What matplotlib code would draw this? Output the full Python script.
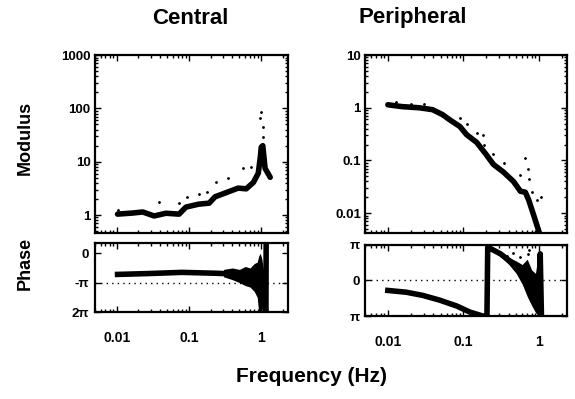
"""Central vs peripheral transfer function: modulus and phase against frequency."""

import matplotlib
matplotlib.use("Agg")
import matplotlib.pyplot as plt
from matplotlib.ticker import LogLocator, NullFormatter, FixedLocator

plt.rcParams["font.family"] = ["Liberation Sans", "DejaVu Sans"]
plt.rcParams["font.weight"] = "bold"

# ---- data ---------------------------------------------------------------
# Central modulus (thick curve) and scattered dots
central_mod_f = [0.0103, 0.0166, 0.023, 0.033, 0.048, 0.073, 0.091, 0.137, 0.19,
                 0.23, 0.32, 0.48, 0.62, 0.78, 0.91, 0.97, 1.0, 1.05, 1.13, 1.33]
central_mod_v = [1.04, 1.09, 1.14, 0.96, 1.08, 1.04, 1.41, 1.6, 1.67,
                 2.2, 2.6, 3.2, 3.1, 4.1, 6.1, 12.0, 18.7, 20.0, 7.5, 5.1]
central_dot_f = [0.0103, 0.039, 0.073, 0.094, 0.137, 0.18, 0.24, 0.35, 0.56,
                 0.73, 0.97, 1.0, 1.05, 1.05]
central_dot_v = [1.24, 1.75, 1.67, 2.2, 2.45, 2.7, 4.1, 4.9, 7.5,
                 7.9, 65.0, 84.0, 44.0, 29.0]

# Central phase (units of pi), noisy band near resonance
central_ph_f = [0.0103, 0.028, 0.08, 0.23, 0.39, 0.6, 0.82, 0.95, 1.1, 1.16, 1.17]
central_ph_v = [-0.72, -0.69, -0.65, -0.68, -0.70, -0.75, -0.82, -1.0, -1.2, -2.3, 0.5]
central_band_f = [0.3, 0.4, 0.5, 0.6, 0.7, 0.8, 0.88, 0.92, 0.97, 1.02, 1.08]
central_band_lo = [-0.8, -0.9, -1.0, -1.1, -1.15, -1.3, -1.5, -2.0, -2.0, -2.0, -1.4]
central_band_hi = [-0.55, -0.5, -0.55, -0.45, -0.5, -0.35, -0.3, -0.1, 0.0, -0.2, -0.6]

# Peripheral modulus
periph_mod_f = [0.01, 0.0155, 0.026, 0.039, 0.053, 0.066, 0.09, 0.11, 0.15, 0.2,
                0.25, 0.34, 0.46, 0.57, 0.66, 0.73, 0.86, 1.07]
periph_mod_v = [1.14, 1.05, 1.0, 0.92, 0.74, 0.59, 0.44, 0.31, 0.22, 0.13,
                0.084, 0.06, 0.04, 0.026, 0.025, 0.018, 0.0088, 0.0033]
periph_dot_f = [0.013, 0.02, 0.03, 0.09, 0.11, 0.15, 0.18, 0.19, 0.25, 0.34,
                0.57, 0.66, 0.71, 0.73, 0.82, 0.95, 1.05]
periph_dot_v = [1.3, 1.2, 1.2, 0.65, 0.5, 0.33, 0.3, 0.2, 0.13, 0.09,
                0.053, 0.11, 0.07, 0.045, 0.025, 0.018, 0.02]

# Peripheral phase (units of pi), wraps from -pi to pi near 0.2 Hz
periph_ph_f = [0.01, 0.0175, 0.029, 0.048, 0.082, 0.122, 0.18, 0.205, 0.21,
               0.31, 0.46, 0.57, 0.71, 0.86, 1.0, 1.04, 1.08]
periph_ph_v = [-0.28, -0.33, -0.42, -0.55, -0.72, -0.89, -1.0, -1.0, 0.94,
               0.75, 0.47, 0.19, -0.08, -0.36, -0.7, 0.75, -1.0]
periph_band_f = [0.3, 0.4, 0.5, 0.6, 0.7, 0.8, 0.9, 0.98, 1.05, 1.1]
periph_band_lo = [0.7, 0.45, 0.2, -0.1, -0.45, -0.7, -0.9, -1.0, -1.0, -1.0]
periph_band_hi = [0.8, 0.65, 0.55, 0.45, 0.6, 0.3, 0.2, 0.75, 0.75, 0.7]
periph_phdot_f = [0.28, 0.38, 0.46, 0.57, 0.71, 0.73]
periph_phdot_v = [0.83, 0.7, 0.78, 0.65, 0.75, 0.85]

XLIM = (0.005, 2.35)


def style_axis(ax):
    for spine in ax.spines.values():
        spine.set_linewidth(1.6)
    ax.tick_params(which="both", direction="in", top=True, right=True, width=1.0)
    ax.tick_params(which="major", length=4, labelsize=9.5)
    ax.tick_params(which="minor", length=2.5)
    ax.set_xscale("log")
    ax.set_xlim(*XLIM)
    ax.xaxis.set_major_locator(LogLocator(base=10))
    ax.xaxis.set_minor_locator(LogLocator(base=10, subs=range(2, 10)))
    ax.xaxis.set_minor_formatter(NullFormatter())


def modulus_panel(ax, f, v, dot_f, dot_v, ylim, labels):
    style_axis(ax)
    ax.plot(f, v, color="black", lw=4, solid_capstyle="round", solid_joinstyle="round")
    ax.plot(dot_f, dot_v, ".", color="black", ms=2)
    ax.set_yscale("log")
    ax.set_ylim(*ylim)
    ax.yaxis.set_major_locator(FixedLocator(list(labels.keys())))
    ax.set_yticklabels(list(labels.values()))
    ax.yaxis.set_minor_locator(LogLocator(base=10, subs=range(2, 10)))
    ax.yaxis.set_minor_formatter(NullFormatter())
    ax.tick_params(axis="y", pad=3)
    ax.set_xticklabels([])


def phase_panel(ax, f, v, band_f, band_lo, band_hi, ylim, ref, yticks, ylabels):
    style_axis(ax)
    ax.axhline(ref, color="black", lw=1, ls=(0, (1, 3)))
    ax.fill_between(band_f, band_lo, band_hi, color="black", lw=0)
    ax.plot(f, v, color="black", lw=4, solid_joinstyle="round")
    ax.set_ylim(*ylim)
    ax.set_yticks(yticks)
    ax.set_yticklabels(ylabels)
    ax.tick_params(axis="y", pad=4)
    ax.set_xticks([0.01, 0.1, 1])
    ax.set_xticklabels(["0.01", "0.1", "1"])
    ax.tick_params(axis="x", which="major", pad=14, labelsize=10)


fig = plt.figure(figsize=(5.75, 3.99), dpi=100)

ax_cm = fig.add_axes([0.165, 0.416, 0.336, 0.446])
ax_cp = fig.add_axes([0.165, 0.218, 0.336, 0.173])
ax_pm = fig.add_axes([0.635, 0.416, 0.351, 0.446])
ax_pp = fig.add_axes([0.635, 0.208, 0.351, 0.178])

modulus_panel(ax_cm, central_mod_f, central_mod_v, central_dot_f, central_dot_v,
              (0.46, 1000), {1: "1", 10: "10", 100: "100", 1000: "1000"})
modulus_panel(ax_pm, periph_mod_f, periph_mod_v, periph_dot_f, periph_dot_v,
              (0.0042, 10), {0.01: "0.01", 0.1: "0.1", 1: "1", 10: "10"})

phase_panel(ax_cp, central_ph_f, central_ph_v, central_band_f, central_band_lo,
            central_band_hi, (-2.0, 0.35), -1.0, [-2, -1, 0], ["2π", "-π", "0"])
phase_panel(ax_pp, periph_ph_f, periph_ph_v, periph_band_f, periph_band_lo,
            periph_band_hi, (-1.0, 1.0), 0.0, [-1, 0, 1], ["π", "0", "π"])
ax_pp.plot(periph_phdot_f, periph_phdot_v, ".", color="black", ms=2)

fig.text(190 / 575, 1 - 18 / 399, "Central", ha="center", va="center",
         fontsize=16, fontweight="bold")
fig.text(413 / 575, 1 - 18 / 399, "Peripheral", ha="center", va="center",
         fontsize=16, fontweight="bold")
fig.text(25 / 575, 1 - 138 / 399, "Modulus", rotation=90, ha="center", va="center",
         fontsize=13, fontweight="bold")
fig.text(25 / 575, 1 - 263 / 399, "Phase", rotation=90, ha="center", va="center",
         fontsize=13, fontweight="bold")
fig.text(312 / 575, 1 - 377 / 399, "Frequency (Hz)", ha="center", va="center",
         fontsize=15, fontweight="bold")

fig.savefig("out.png", dpi=100)
